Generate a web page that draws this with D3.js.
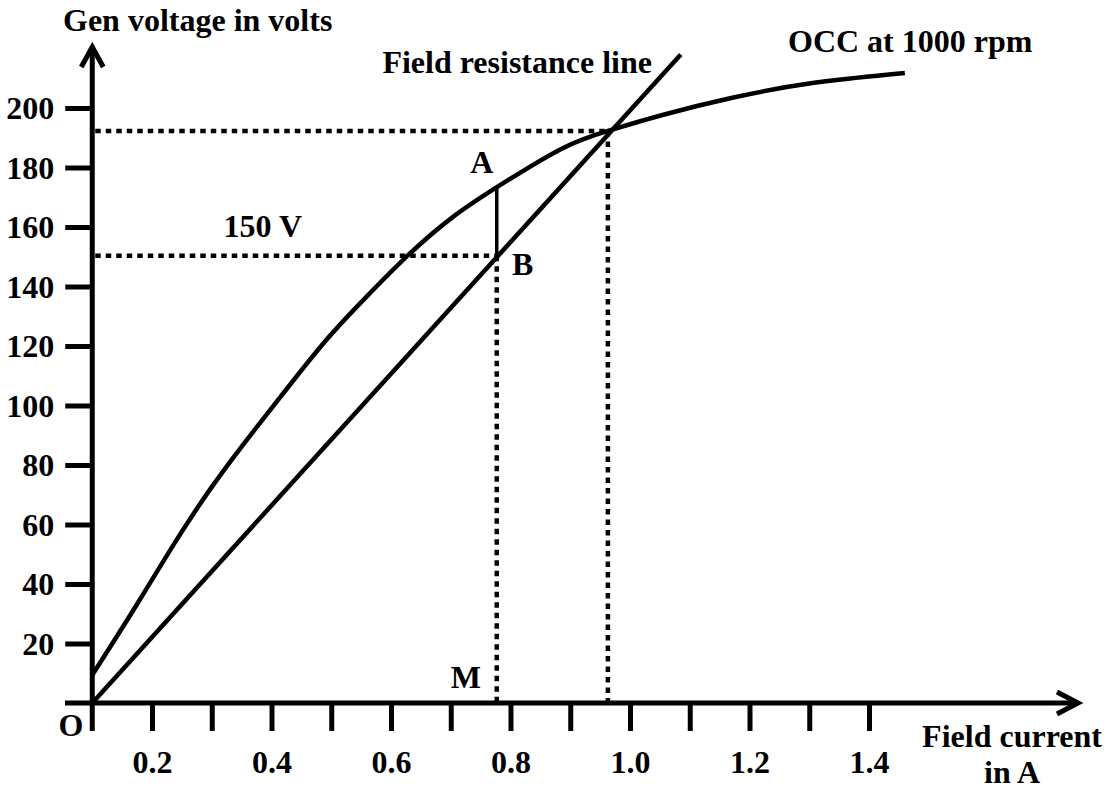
<!DOCTYPE html>
<html>
<head>
<meta charset="utf-8">
<script src="https://cdn.jsdelivr.net/npm/d3@7"></script>
<style>
    body { margin: 0; background: #fff; }
    svg text { font-family: "Liberation Serif", "Times New Roman", serif; font-weight: bold; fill: #000; }
</style>
</head>
<body>
<div id="svg-container"></div>
<script>
;(function () {

    var width = 1109
        , height = 789
        , fontSize = 32
        , svg;

    // open circuit characteristic (field current in A, voltage in V)
    var occCurrent = [0.1, 0.177, 0.24, 0.299, 0.349, 0.411, 0.493, 0.565, 0.627, 0.704, 0.777, 0.895, 0.963, 1.05, 1.172, 1.3, 1.46];
    var occVolts   = [9.4, 33.6, 54.8, 72.6, 86.1, 101.8, 123, 137.8, 150.6, 164, 173.4, 188.2, 192.3, 197.6, 203.7, 208.7, 211.8];

    // field resistance line, from O through B and the operating point
    var lineCurrent = [0.1, 1.085];
    var lineVolts   = [0, 218];

    var originCurrent = 0.1;
    var pointB = [0.777, 150.3];
    var pointA = [0.777, 173.4];
    var operating = [0.963, 192.3];

    var xTickValues = [0.2, 0.3, 0.4, 0.5, 0.6, 0.7, 0.8, 0.9, 1.0, 1.1, 1.2, 1.3, 1.4];
    var xTickLabels = ['0.2', '', '0.4', '', '0.6', '', '0.8', '', '1.0', '', '1.2', '', '1.4'];
    var yTickValues = [20, 40, 60, 80, 100, 120, 140, 160, 180, 200];

    var x = d3.scaleLinear().domain([0.2, 1.4]).range([152, 869]);
    var y = d3.scaleLinear().domain([0, 200]).range([703, 108]);

    function initialize() {

        svg = d3.select("#svg-container").append("svg")
            .attr("width", width)
            .attr("height", height);

        var x0 = x(originCurrent)
            , y0 = y(0);

        // axis ticks
        var xAxis = d3.axisBottom(x)
            .tickValues(xTickValues)
            .tickSize(28)
            .tickPadding(19)
            .tickFormat(function (d, i) { return xTickLabels[i]; });

        var gx = svg.append("g")
            .attr("transform", "translate(0," + y0 + ")")
            .call(xAxis);
        gx.select(".domain").remove();
        gx.selectAll(".tick line").attr("stroke", "#000").attr("stroke-width", 5);
        gx.selectAll(".tick text").attr("font-size", fontSize).attr("dy", "0.71em");

        var yAxis = d3.axisLeft(y)
            .tickValues(yTickValues)
            .tickSize(27)
            .tickPadding(11);

        var gy = svg.append("g")
            .attr("transform", "translate(" + x0 + ",0)")
            .call(yAxis);
        gy.select(".domain").remove();
        gy.selectAll(".tick line").attr("stroke", "#000").attr("stroke-width", 5);
        gy.selectAll(".tick text").attr("font-size", fontSize).attr("dy", "0.34em");

        // axis lines with open arrow heads
        svg.append("line")
            .attr("x1", 65).attr("y1", y0)
            .attr("x2", 1078).attr("y2", y0)
            .attr("stroke", "#000").attr("stroke-width", 5);
        svg.append("path")
            .attr("d", "M1057," + (y0 - 11) + "L1078," + y0 + "L1057," + (y0 + 11))
            .attr("fill", "none").attr("stroke", "#000").attr("stroke-width", 5);

        svg.append("line")
            .attr("x1", x0).attr("y1", 731)
            .attr("x2", x0).attr("y2", 47)
            .attr("stroke", "#000").attr("stroke-width", 5);
        svg.append("path")
            .attr("d", "M" + (x0 - 11) + ",67L" + x0 + ",47L" + (x0 + 11) + ",67")
            .attr("fill", "none").attr("stroke", "#000").attr("stroke-width", 5);

        // dotted guides
        var dots = "5.5,5";
        function dotted(xa, ya, xb, yb) {
            svg.append("line")
                .attr("x1", xa).attr("y1", ya)
                .attr("x2", xb).attr("y2", yb)
                .attr("stroke", "#000").attr("stroke-width", 4.5)
                .attr("stroke-dasharray", dots);
        }
        dotted(x0 + 3, y(operating[1]), x(operating[0]), y(operating[1]));
        dotted(x(operating[0]), y(operating[1]), x(operating[0]), y0);
        dotted(x0 + 3, y(pointB[1]), x(pointB[0]), y(pointB[1]));
        dotted(x(pointB[0]), y(pointB[1]), x(pointB[0]), y0);

        // OCC and field resistance line
        var occ = occCurrent.map(function (c, i) { return [c, occVolts[i]]; });
        var res = lineCurrent.map(function (c, i) { return [c, lineVolts[i]]; });

        var line = d3.line()
            .x(function (d) { return x(d[0]); })
            .y(function (d) { return y(d[1]); });

        svg.append("path")
            .datum(occ)
            .attr("d", line.curve(d3.curveBasis))
            .attr("fill", "none").attr("stroke", "#000").attr("stroke-width", 4.5);

        svg.append("path")
            .datum(res)
            .attr("d", line.curve(d3.curveLinear))
            .attr("fill", "none").attr("stroke", "#000").attr("stroke-width", 4.5);

        // A-B
        svg.append("line")
            .attr("x1", x(pointA[0])).attr("y1", y(pointA[1]))
            .attr("x2", x(pointB[0])).attr("y2", y(pointB[1]))
            .attr("stroke", "#000").attr("stroke-width", 3.5);

        // labels
        function label(txt, px, py, anchor) {
            svg.append("text")
                .attr("x", px).attr("y", py)
                .attr("font-size", fontSize)
                .attr("text-anchor", anchor || "start")
                .text(txt);
        }

        label("Gen voltage in volts", 63, 31);
        label("Field resistance line", 652, 73, "end");
        label("OCC at 1000 rpm", 788, 52);
        label("Field current", 1012, 747, "middle");
        label("in A", 1012, 783, "middle");
        label("O", 71, 736, "middle");
        label("A", x(pointA[0]) - 15, y(pointA[1]) - 14, "middle");
        label("B", x(pointB[0]) + 26, y(pointB[1]) + 19, "middle");
        label("M", x(pointB[0]) - 31, y0 - 15, "middle");
        label("150 V", 302, y(pointB[1]) - 19, "end");
    }

    initialize();

}());
</script>
</body>
</html>
